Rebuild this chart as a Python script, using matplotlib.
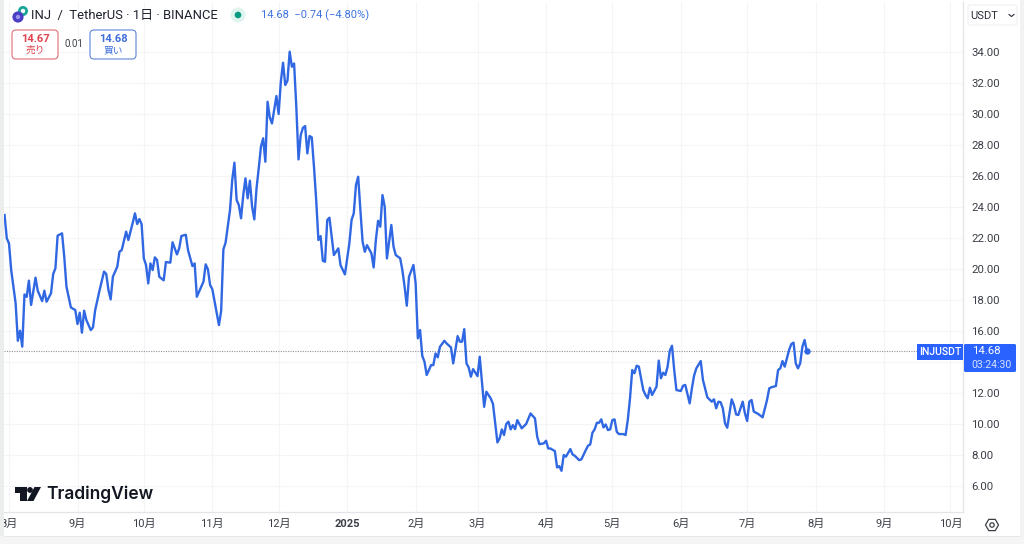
import numpy as np
import matplotlib.pyplot as plt
from matplotlib.patches import Circle, FancyBboxPatch, Polygon, RegularPolygon, Rectangle

plt.rcParams['font.family'] = ['Roboto', 'Noto Sans CJK JP', 'DejaVu Sans']

# days counted from 2024-08-01
days = [-2, -1, 0, 1, 3, 4, 5, 6, 7, 8,
        9, 10, 12, 13, 15, 16, 17, 19, 20, 21,
        22, 24, 25, 26, 28, 30, 31, 32, 33, 34,
        35, 37, 38, 39, 41, 43, 44, 45, 46, 47,
        49, 50, 51, 53, 54, 56, 57, 58, 59, 60,
        61, 62, 63, 64, 65, 66, 67, 68, 70, 71,
        73, 74, 76, 77, 78, 80, 81, 83, 84, 85,
        86, 88, 89, 90, 91, 92, 94, 95, 96, 97,
        98, 100, 101, 102, 103, 104, 105, 106, 107, 108,
        109, 110, 111, 112, 113, 114, 115, 116, 117, 118,
        119, 121, 122, 123, 124, 125, 126, 127, 128, 129,
        130, 131, 132, 133, 134, 135, 136, 137, 138, 139,
        140, 141, 142, 143, 144, 145, 146, 147, 149, 150,
        152, 154, 155, 156, 157, 158, 159, 160, 161, 162,
        164, 165, 166, 167, 168, 169, 170, 171, 173, 174,
        175, 177, 178, 179, 180, 181, 183, 184, 185, 186,
        187, 188, 189, 191, 192, 193, 194, 195, 197, 198,
        200, 201, 203, 204, 205, 206, 207, 208, 209, 210,
        212, 213, 214, 215, 216, 218, 219, 220, 221, 222,
        223, 224, 225, 226, 227, 228, 229, 230, 232, 234,
        236, 238, 239, 240, 242, 243, 244, 245, 247, 248,
        249, 250, 251, 252, 254, 255, 256, 258, 259, 261,
        262, 263, 264, 265, 266, 267, 268, 269, 270, 271,
        272, 273, 274, 275, 276, 278, 279, 280, 281, 282,
        283, 284, 285, 286, 287, 288, 289, 290, 291, 293,
        294, 295, 296, 297, 298, 299, 300, 301, 302, 304,
        305, 306, 308, 309, 310, 311, 313, 314, 316, 318,
        319, 320, 321, 322, 323, 324, 325, 327, 328, 329,
        330, 332, 333, 334, 335, 336, 337, 339, 341, 343,
        344, 345, 347, 348, 349, 350, 351, 353, 354, 355,
        356, 357, 358, 359, 360, 361]
prices = [23.48, 21.98, 21.65, 19.93, 17.78, 15.37, 16.02, 14.99, 18.36, 18.2,
          19.25, 17.68, 19.44, 18.6, 17.93, 18.6, 17.89, 18.43, 19.68, 20.04,
          22.15, 22.3, 20.79, 18.86, 17.52, 17.35, 16.45, 17.18, 15.89, 17.31,
          16.71, 16.06, 16.23, 17.35, 18.64, 19.83, 19.68, 18.64, 18.04, 19.5,
          20.15, 21.12, 21.22, 22.41, 21.87, 22.99, 23.59, 22.9, 23.22, 22.9,
          20.69, 20.26, 19.07, 20.36, 19.93, 20.75, 20.58, 19.5, 19.27, 20.45,
          20.41, 21.72, 20.94, 21.33, 22.13, 22.21, 21.22, 20.19, 20.36, 18.21,
          18.54, 19.18, 20.3, 19.98, 18.97, 18.7, 17.14, 16.38, 17.3, 21.26,
          21.7, 23.8, 25.74, 26.86, 24.45, 24.12, 23.27, 24.77, 25.85, 24.56,
          25.7, 24.02, 23.2, 25.2, 26.49, 27.89, 28.43, 26.92, 30.79, 29.78,
          29.39, 31.16, 30.0, 32.08, 33.31, 31.87, 32.15, 34.02, 33.05, 33.26,
          30.47, 27.07, 28.64, 29.11, 29.22, 27.46, 28.58, 28.49, 26.6, 24.45,
          21.87, 22.12, 20.53, 20.47, 23.16, 23.31, 22.08, 20.9, 21.33, 20.25,
          19.65, 21.65, 23.16, 23.59, 25.42, 25.95, 23.8, 21.76, 21.11, 21.54,
          21.0, 20.1, 21.87, 23.11, 22.73, 24.77, 24.02, 20.68, 22.84, 21.44,
          20.9, 20.69, 19.93, 18.86, 17.63, 19.5, 20.26, 19.07, 15.53, 16.06,
          14.4, 14.02, 13.16, 13.8, 13.8, 14.55, 14.3, 14.98, 15.37, 15.2,
          14.94, 13.91, 15.67, 15.31, 15.31, 16.12, 13.91, 13.65, 13.05, 13.54,
          13.09, 14.34, 12.73, 11.11, 12.08, 11.65, 11.29, 10.04, 8.81, 9.07,
          9.65, 9.29, 10.0, 10.15, 9.65, 9.93, 9.67, 10.25, 9.72, 10.0,
          10.68, 10.36, 9.18, 8.7, 8.75, 8.92, 8.42, 8.42, 8.25, 7.2,
          7.28, 6.98, 8.0, 7.89, 8.38, 8.04, 7.95, 7.67, 7.72, 8.32,
          8.6, 8.68, 9.44, 9.65, 10.08, 10.08, 10.3, 9.78, 9.97, 9.61,
          9.65, 10.25, 10.3, 9.5, 9.35, 9.35, 9.29, 10.26, 11.66, 13.48,
          13.27, 13.76, 13.7, 12.95, 12.19, 11.87, 11.66, 12.34, 11.87, 12.41,
          14.09, 12.95, 13.31, 13.16, 13.7, 14.73, 15.05, 13.48, 12.19, 12.13,
          12.47, 12.52, 11.33, 12.3, 13.12, 13.59, 14.06, 12.84, 11.72, 11.44,
          11.59, 11.01, 11.44, 11.4, 11.01, 10.04, 9.76, 11.59, 11.23, 10.62,
          10.58, 11.44, 10.69, 10.19, 11.44, 11.55, 10.8, 10.65, 10.43, 11.55,
          12.3, 12.37, 12.45, 13.48, 13.59, 14.06, 13.7, 14.78, 15.16, 15.25,
          13.91, 13.59, 13.91, 14.99, 15.42, 14.68]

price_ticks = [6, 8, 10, 12, 14, 16, 18, 20, 22, 24, 26, 28, 30, 32, 34]
month_days = [0, 31, 61, 92, 122, 153, 184, 212, 243, 273, 304, 334, 365, 396, 426]
month_labels = ['8月', '9月', '10月', '11月', '12月', '2025', '2月', '3月', '4月', '5月', '6月', '7月', '8月', '9月', '10月']
last_price = 14.68

line_col = '#3067e2'
W, H = 1024, 544

fig = plt.figure(figsize=(W / 100, H / 100), dpi=100, facecolor='white')
# plot area: x 4..963 px, y 2..512 px
ax = fig.add_axes([4 / W, 1 - 512 / H, 959 / W, 510 / H])
ax.set_xlim((4 - 9) / 2.21, (963 - 9) / 2.21)
ax.set_ylim(6 + (486 - 512) / 15.5, 6 + (486 - 2) / 15.5)

ax.plot(days, prices, color=line_col, lw=1.7, solid_joinstyle='round', zorder=3)
ax.plot(days[-1], last_price, 'o', color=line_col, ms=3.6, zorder=4)
ax.axhline(last_price, color='#8f9299', lw=0.8, ls=(0, (1, 1.2)), zorder=2)

ax.set_xticks(month_days)
ax.set_xticklabels(month_labels, fontsize=8, color='#3c3f47')
ax.set_yticks(price_ticks)
# 14.00 sits under the last price tag, so it stays blank
ax.set_yticklabels(['' if p == 14 else '%.2f' % p for p in price_ticks], fontsize=8.2, color='#3c3f47')
ax.yaxis.tick_right()
ax.tick_params(length=0, pad=6)
ax.tick_params(axis='x', pad=5)
ax.get_xticklabels()[5].set_fontweight('bold')
ax.grid(True, color='#f4f5f9', lw=0.8)
ax.set_axisbelow(True)
for s in ['top', 'left']:
    ax.spines[s].set_visible(False)
for s in ['right', 'bottom']:
    ax.spines[s].set_color('#e3e4e8')
    ax.spines[s].set_linewidth(0.9)

# pixel overlay for the TradingView chrome
ov = fig.add_axes([0, 0, 1, 1], facecolor='none')
ov.set_xlim(0, W)
ov.set_ylim(H, 0)
ov.axis('off')

# outer frame
ov.add_patch(Rectangle((0, 0), 3.5, H, color='#eceded', lw=0))
ov.add_patch(Rectangle((1020, 0), 4, H, color='#f2f2f3', lw=0))
ov.add_patch(Rectangle((0, 536), W, 8, color='#f5f5f6', lw=0))
ov.plot([4, 1020], [536, 536], color='#e6e7ea', lw=0.7)

# symbol icon and header
ov.add_patch(Circle((23, 11), 5, color='#17a59a', lw=0))
ov.add_patch(Circle((23, 11), 2.2, color='white', lw=0))
ov.add_patch(Circle((18, 17), 5.6, color='#4a3fc4', lw=0))
ov.add_patch(Circle((18, 17), 2.2, color='#9b95ee', lw=0))
ov.text(31, 15.5, 'INJ  /  TetherUS · 1日 · BINANCE', fontsize=9.4, color='#1e222d', va='center', ha='left')
ov.add_patch(Circle((238, 15), 7.5, color='#dff3ef', lw=0))
ov.add_patch(Circle((238, 15), 3.3, color='#089981', lw=0))
ov.text(261, 15.5, '14.68  −0.74 (−4.80%)', fontsize=8, color='#3f73e0', va='center', ha='left')

# sell / buy boxes
ov.add_patch(FancyBboxPatch((12, 30), 46, 29, boxstyle='round,pad=0,rounding_size=4', fc='white', ec='#dd6f78', lw=0.8))
ov.text(35, 38.5, '14.67', fontsize=8, color='#e0444f', weight='bold', ha='center', va='center')
ov.text(35, 50, '売り', fontsize=7, color='#e0444f', ha='center', va='center')
ov.text(73.5, 44, '0.01', fontsize=7, color='#3c3f47', ha='center', va='center')
ov.add_patch(FancyBboxPatch((90, 30), 46, 29, boxstyle='round,pad=0,rounding_size=4', fc='white', ec='#5f84d6', lw=0.8))
ov.text(113, 38.5, '14.68', fontsize=8, color='#3f6fdc', weight='bold', ha='center', va='center')
ov.text(113, 50, '買い', fontsize=7, color='#3f6fdc', ha='center', va='center')

# currency button
ov.add_patch(FancyBboxPatch((968, 5), 49, 20, boxstyle='round,pad=0,rounding_size=2', fc='white', ec='#f0f0f3', lw=0.8))
ov.text(970, 16, 'USDT', fontsize=8, color='#2b2e38', ha='left', va='center')
ov.plot([1009, 1011.5, 1014], [14.5, 16.5, 14.5], color='#2b2e38', lw=0.8)

# last price labels
ov.add_patch(Rectangle((917, 344), 46, 16, color='#2962ff', lw=0))
ov.text(940, 352, 'INJUSDT', fontsize=7.6, color='white', weight='medium', ha='center', va='center')
ov.add_patch(FancyBboxPatch((964, 344), 52, 28, boxstyle='round,pad=0,rounding_size=1.5', fc='#2962ff', ec='none'))
ov.text(972, 351.5, '14.68', fontsize=8.2, color='white', ha='left', va='center')
ov.text(971, 365, '03:24:30', fontsize=7.6, color='#d5e0ff', ha='left', va='center')

# logo
logo_col = '#131722'
ov.add_patch(Polygon([(14.5, 487), (26.5, 487), (26.5, 501), (20, 501), (20, 493), (14.5, 493)], color=logo_col, lw=0))
ov.add_patch(Circle((30, 490), 2.9, color=logo_col, lw=0))
ov.add_patch(Polygon([(34.5, 487), (41, 487), (33.5, 501), (27, 501)], color=logo_col, lw=0))
ov.text(46, 494.5, 'TradingView', fontsize=12.5, color=logo_col, weight='semibold', ha='left', va='center', family=['Inter', 'DejaVu Sans'])

# settings hexagon
ov.add_patch(RegularPolygon((992, 525), 6, radius=6.5, orientation=np.pi / 2, fc='none', ec='#3c3f47', lw=0.9))
ov.add_patch(Circle((992, 525), 2.2, fc='none', ec='#3c3f47', lw=0.9))

fig.savefig('out.png', dpi=100)
